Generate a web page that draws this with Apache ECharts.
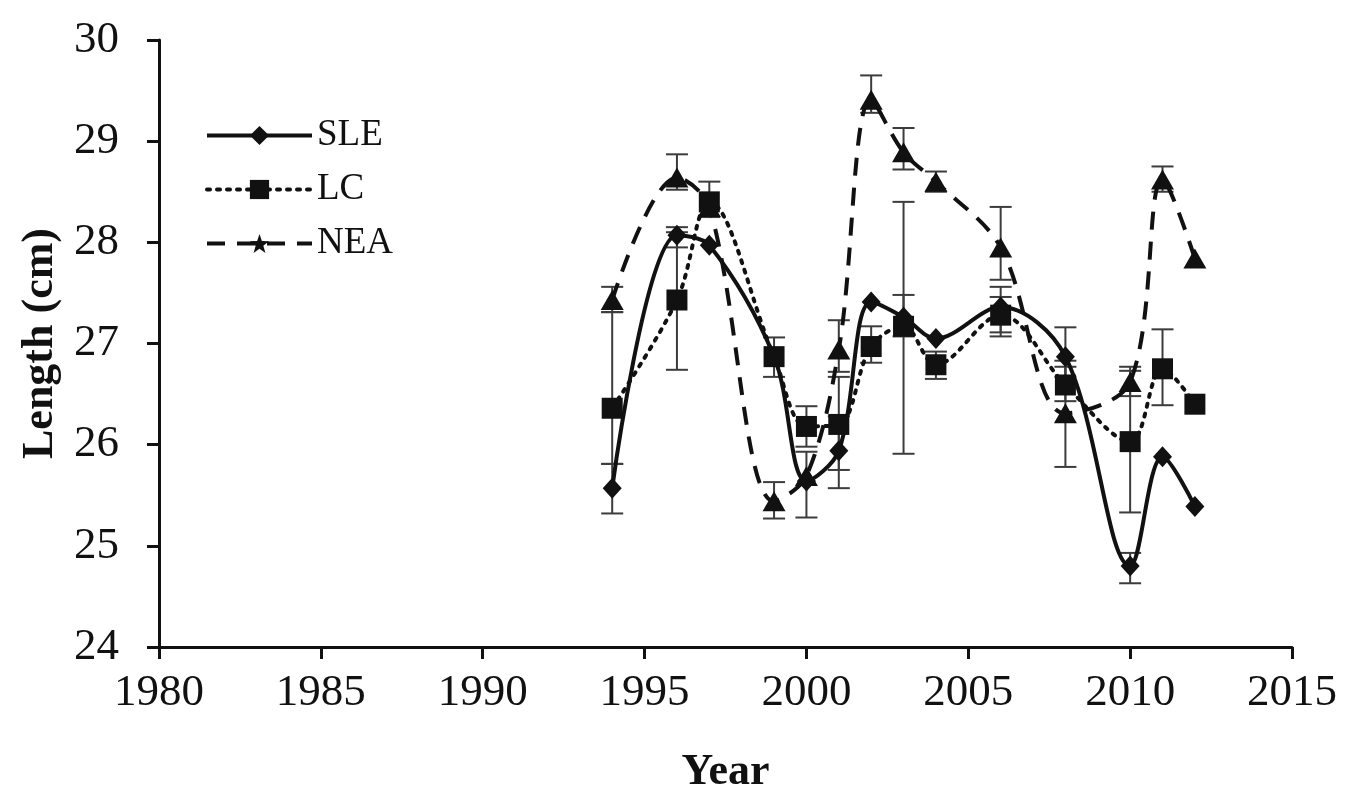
<!DOCTYPE html>
<html>
<head>
<meta charset="utf-8">
<script src="https://cdn.jsdelivr.net/npm/echarts@6/dist/echarts.min.js"></script>
<style>
  html, body { margin: 0; padding: 0; background: #ffffff; }
  #chart { width: 1347px; height: 802px; }
</style>
</head>
<body>
<div id="chart"></div>
<script>
// Mean length by survey year for three stocks, with error bars
const years = [1994, 1996, 1997, 1999, 2000, 2001, 2002, 2003, 2004, 2006, 2008, 2010, 2011, 2012];

const sle = [25.57, 28.07, 27.97, 26.87, 25.64, 25.94, 27.41, 27.26, 27.05, 27.36, 26.87, 24.80, 25.88, 25.39];
const lc  = [26.36, 27.43, 28.40, 26.87, 26.18, 26.20, 26.97, 27.17, 26.79, 27.28, 26.59, 26.03, 26.75, 26.40];
const nea = [27.43, 28.64, 28.35, 25.44, 25.69, 26.94, 29.41, 28.89, 28.60, 27.95, 26.31, 26.62, 28.62, 27.84];

// error bar limits (null where no bar is drawn)
const sleLow  = [25.32, 27.95, null, null, 25.28, 25.57, null, 27.07, null, 27.11, 26.67, 24.63, null, null];
const sleHigh = [25.81, 28.15, null, null, 25.93, 26.28, null, 27.48, null, 27.56, 27.16, 24.93, null, null];
const lcLow   = [25.81, 26.74, 28.25, 26.67, 25.98, 25.75, 26.81, 25.91, 26.65, 27.07, 26.43, 25.33, 26.39, null];
const lcHigh  = [27.31, 28.10, 28.60, 27.06, 26.38, 26.67, 27.17, 28.40, 26.92, 27.46, 26.77, 26.73, 27.14, null];
const neaLow  = [27.31, 28.52, null, 25.27, null, 26.72, 29.28, 28.72, 28.50, 27.63, 25.78, 26.48, 28.50, null];
const neaHigh = [27.56, 28.87, null, 25.63, null, 27.23, 29.65, 29.13, 28.70, 28.35, 26.83, 26.77, 28.75, null];

const yTicks = { min: 24, max: 30, step: 1 };
const xTicks = { min: 1980, max: 2015, step: 5 };

const FONT = '"Liberation Serif", "Times New Roman", serif';
const INK = '#111111';
const STAR = 'path://M0,-10L2.35,-3.24L9.51,-3.09L3.8,1.24L5.88,8.09L0,4L-5.88,8.09L-3.8,1.24L-9.51,-3.09L-2.35,-3.24Z';

const pairs = vals => years.map((y, i) => [y, vals[i]]);
const bars = (lo, hi) => years
  .map((y, i) => [y, lo[i], hi[i]])
  .filter(r => r[1] != null && r[2] != null);

function renderErrorBar(params, api) {
  const x = api.value(0);
  const pLo = api.coord([x, api.value(1)]);
  const pHi = api.coord([x, api.value(2)]);
  const cap = 11;
  const style = { stroke: '#3c3c3c', lineWidth: 2, fill: null };
  return {
    type: 'group',
    children: [
      { type: 'line', shape: { x1: pLo[0], y1: pLo[1], x2: pHi[0], y2: pHi[1] }, style },
      { type: 'line', shape: { x1: pLo[0] - cap, y1: pLo[1], x2: pLo[0] + cap, y2: pLo[1] }, style },
      { type: 'line', shape: { x1: pHi[0] - cap, y1: pHi[1], x2: pHi[0] + cap, y2: pHi[1] }, style }
    ]
  };
}

function errorSeries(name, lo, hi) {
  return {
    name: name,
    type: 'custom',
    renderItem: renderErrorBar,
    data: bars(lo, hi),
    encode: { x: 0, y: [1, 2] },
    z: 1,
    silent: true
  };
}

const chart = echarts.init(document.getElementById('chart'), null, { renderer: 'canvas' });

chart.setOption({
  animation: false,
  backgroundColor: '#ffffff',
  grid: { left: 159, right: 55, top: 40, bottom: 155 },
  legend: {
    data: ['SLE', 'LC', 'NEA'],
    orient: 'vertical',
    left: 200,
    top: 112,
    itemWidth: 105,
    itemHeight: 24,
    itemGap: 17,
    textStyle: { fontFamily: FONT, fontSize: 37, color: INK },
    lineStyle: { width: 4 },
    inactiveColor: '#999'
  },
  xAxis: {
    type: 'value',
    min: xTicks.min,
    max: xTicks.max,
    interval: xTicks.step,
    name: 'Year',
    nameLocation: 'middle',
    nameGap: 104,
    nameTextStyle: { fontFamily: FONT, fontSize: 44, fontWeight: 'bold', color: INK },
    axisLine: { lineStyle: { color: INK, width: 3 } },
    axisTick: { inside: false, length: 12, lineStyle: { color: INK, width: 3 } },
    axisLabel: { fontFamily: FONT, fontSize: 45, color: INK, margin: 24, formatter: v => String(v) },
    splitLine: { show: false }
  },
  yAxis: {
    type: 'value',
    min: yTicks.min,
    max: yTicks.max,
    interval: yTicks.step,
    name: 'Length (cm)',
    nameLocation: 'middle',
    nameGap: 95,
    nameTextStyle: { fontFamily: FONT, fontSize: 44, fontWeight: 'bold', color: INK },
    axisLine: { show: true, lineStyle: { color: INK, width: 3 } },
    axisTick: { show: true, inside: false, length: 12, lineStyle: { color: INK, width: 3 } },
    axisLabel: { fontFamily: FONT, fontSize: 45, color: INK, margin: 40 },
    splitLine: { show: false }
  },
  series: [
    errorSeries('SLE error', sleLow, sleHigh),
    errorSeries('LC error', lcLow, lcHigh),
    errorSeries('NEA error', neaLow, neaHigh),
    {
      name: 'SLE',
      type: 'line',
      data: pairs(sle),
      smooth: 0.35,
      symbol: 'diamond',
      symbolSize: [19, 21],
      z: 4,
      lineStyle: { color: INK, width: 4, type: 'solid' },
      itemStyle: { color: INK, borderWidth: 0 }
    },
    {
      name: 'LC',
      type: 'line',
      data: pairs(lc),
      smooth: 0.35,
      symbol: 'rect',
      symbolSize: 21,
      z: 3,
      lineStyle: { color: INK, width: 4, type: [3, 7], cap: 'round' },
      itemStyle: { color: INK, borderWidth: 0 }
    },
    {
      name: 'NEA',
      type: 'line',
      // star on the series (legend key), triangles on every point
      data: pairs(nea).map(p => ({ value: p, symbol: 'triangle' })),
      smooth: 0.35,
      symbol: STAR,
      symbolSize: [23, 20],
      z: 2,
      lineStyle: { color: INK, width: 4, type: [18, 12] },
      itemStyle: { color: INK, borderWidth: 0 }
    }
  ]
});
</script>
</body>
</html>
